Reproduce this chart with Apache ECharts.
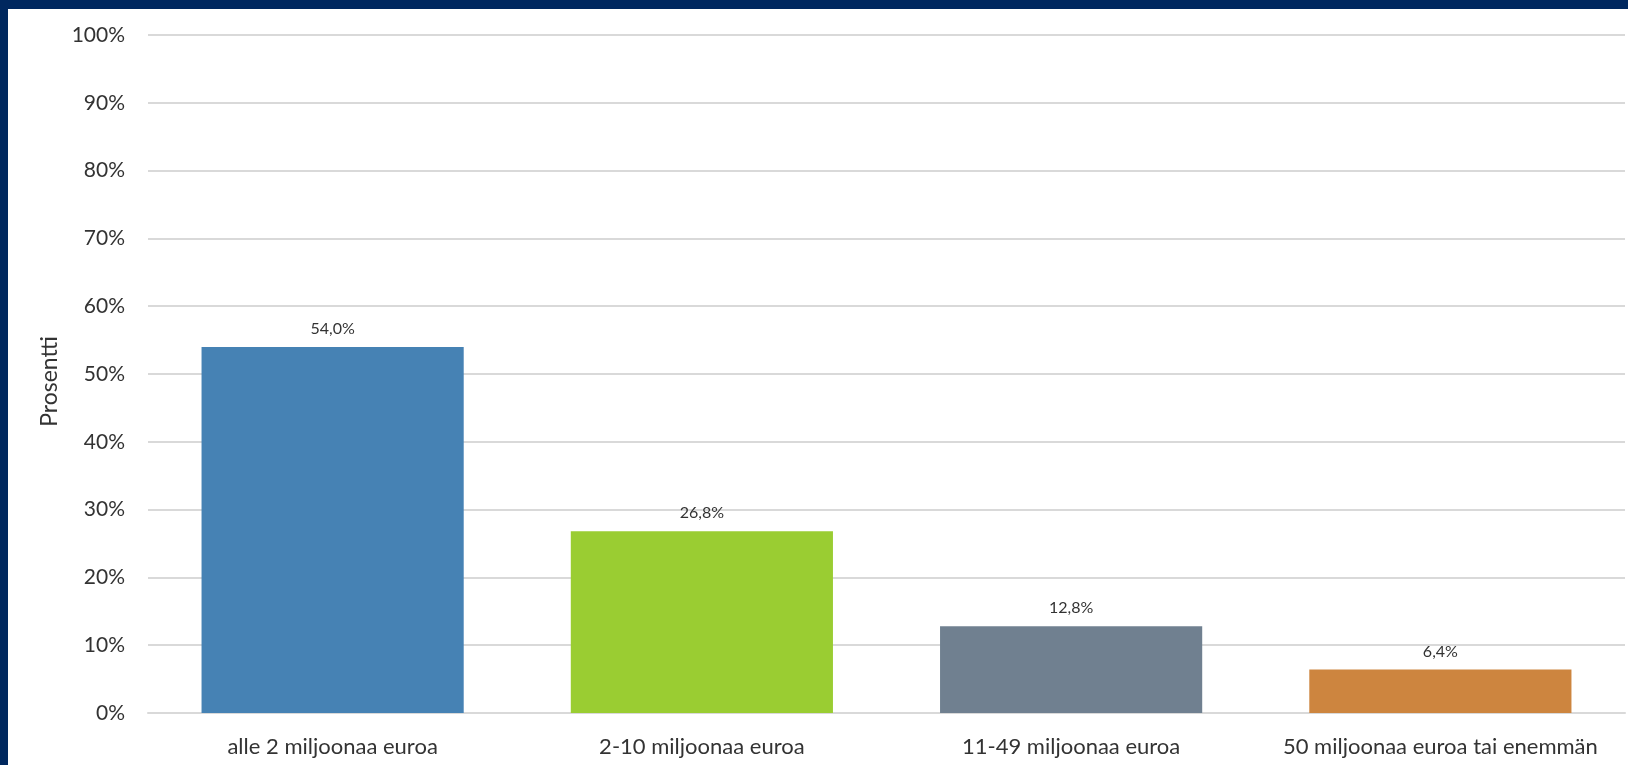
<!DOCTYPE html>
<html><head><meta charset="utf-8">
<script src="https://cdn.jsdelivr.net/npm/echarts@6/dist/echarts.min.js"></script>
<style>html,body{margin:0;padding:0;background:#fff;}#c{width:1628px;height:765px;}</style>
</head><body><div id="c"></div>
<script>
const categories = ['alle 2 miljoonaa euroa', '2-10 miljoonaa euroa', '11-49 miljoonaa euroa', '50 miljoonaa euroa tai enemmän'];
const values = [54.0, 26.8, 12.8, 6.4];
const barColors = ['#4682B4', '#9ACD32', '#708090', '#CD853F'];
const yAxisName = 'Prosentti';

const chart = echarts.init(document.getElementById('c'));
const font = 'Lato, "Open Sans", sans-serif';
chart.setOption({
  animation: false,
  backgroundColor: '#fff',
  graphic: [
    {type: 'rect', left: 0, top: 0, shape: {width: 1628, height: 9}, style: {fill: '#00285f'}, z: 100},
    {type: 'rect', left: 0, top: 0, shape: {width: 8, height: 765}, style: {fill: '#00285f'}, z: 100}
  ],
  grid: {left: 148, right: 3, top: 35, bottom: 52},
  xAxis: {
    type: 'category',
    data: categories,
    axisTick: {show: false},
    axisLine: {lineStyle: {color: '#d9d9d9', width: 2}},
    axisLabel: {color: '#333', fontSize: 22, fontFamily: font, margin: 23, interval: 0, hideOverlap: false}
  },
  yAxis: {
    type: 'value',
    min: 0, max: 100, interval: 10,
    name: yAxisName,
    nameLocation: 'middle',
    nameGap: 82,
    nameRotate: 90,
    nameTextStyle: {color: '#333', fontSize: 23, fontFamily: font, padding: [0, 15, 0, 0]},
    axisLabel: {formatter: '{value}%', color: '#333', fontSize: 21, fontFamily: font, margin: 23},
    splitLine: {lineStyle: {color: '#d9d9d9', width: 2}},
    axisLine: {show: false}
  },
  series: [{
    type: 'bar',
    data: values.map((v, i) => ({value: v, itemStyle: {color: barColors[i]}})),
    barWidth: '71%',
    label: {
      show: true, position: 'top', distance: 10,
      color: '#333', fontSize: 16, fontFamily: font,
      formatter: p => p.value.toFixed(1).replace('.', ',') + '%'
    }
  }]
});
</script></body></html>
